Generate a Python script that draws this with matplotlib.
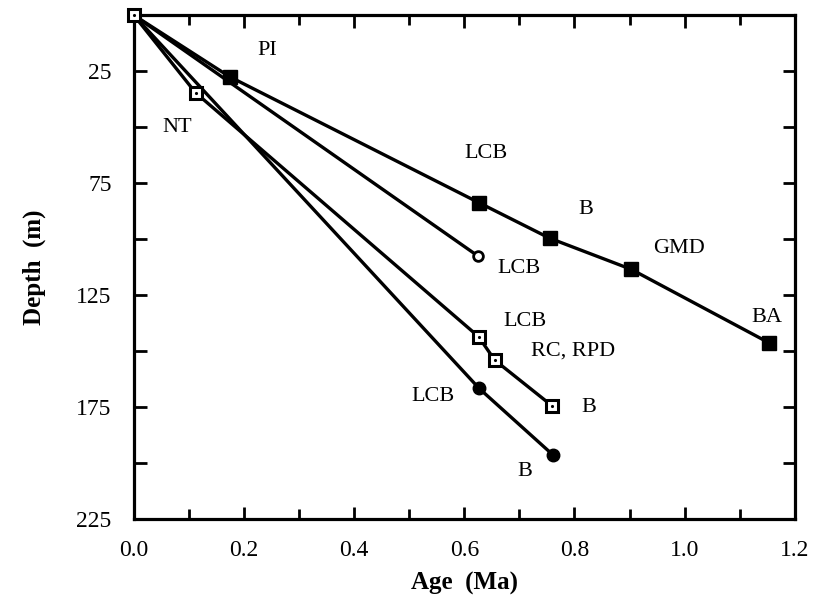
import numpy as np
import matplotlib.pyplot as plt
from matplotlib.ticker import MultipleLocator, FixedLocator

plt.rcParams['font.family'] = ['Liberation Serif', 'DejaVu Serif']

# filled squares
age_fs = [0.0, 0.174, 0.627, 0.755, 0.903, 1.153]
depth_fs = [0.0, 27.5, 83.8, 99.6, 113.5, 146.3]
# open circle
age_oc = [0.0, 0.625]
depth_oc = [0.0, 107.6]
# open squares with dot
age_os = [0.0, 0.112, 0.626, 0.655, 0.760]
depth_os = [0.0, 34.6, 143.6, 154.0, 174.6]
# filled circles
age_fc = [0.0, 0.627, 0.761]
depth_fc = [0.0, 166.7, 196.4]

labels = ["PI", "NT", "LCB", "B", "GMD", "BA", "LCB", "LCB", "RC, RPD", "B", "LCB", "B"]
label_x = [0.243, 0.078, 0.64, 0.82, 0.99, 1.15, 0.70, 0.71, 0.797, 0.826, 0.543, 0.71]
label_y = [15.6, 50.0, 61.6, 87.0, 104.0, 134.8, 113.0, 136.6, 150.0, 175.0, 170.5, 203.6]

fig = plt.figure(figsize=(8.16, 6.07), dpi=100)
ax = fig.add_axes([0.164, 0.145, 0.81, 0.830])

lw = 2.4
ax.plot(age_fs, depth_fs, color='black', lw=lw, zorder=2)
ax.plot(age_fs[1:], depth_fs[1:], 's', color='black', ms=9.5, zorder=3)
ax.plot(age_oc, depth_oc, color='black', lw=lw, zorder=2)
ax.plot(age_oc[1:], depth_oc[1:], 'o', mfc='white', mec='black', mew=2, ms=7, zorder=3)
ax.plot(age_os, depth_os, color='black', lw=lw, zorder=2)
ax.plot(age_os, depth_os, 's', mfc='white', mec='black', mew=2.2, ms=8.5, zorder=4, clip_on=False)
ax.plot(age_os, depth_os, '.', color='black', ms=2.5, zorder=5, clip_on=False)
ax.plot(age_fc, depth_fc, color='black', lw=lw, zorder=2)
ax.plot(age_fc[1:], depth_fc[1:], 'o', color='black', ms=9, zorder=3)

for t, x, y in zip(labels, label_x, label_y):
    ax.text(x, y, t, ha='center', va='center', fontsize=16)

ax.set_xlim(0, 1.2)
ax.set_ylim(225, 0)
ax.xaxis.set_major_locator(MultipleLocator(0.2))
ax.xaxis.set_minor_locator(MultipleLocator(0.1))
ax.set_xticklabels([f"{v:.1f}" for v in ax.get_xticks()])
ax.yaxis.set_major_locator(FixedLocator([25, 75, 125, 175, 225]))
ax.yaxis.set_minor_locator(FixedLocator([50, 100, 150, 200]))

ax.tick_params(which='both', direction='in', top=True, right=True, width=2, labelsize=17)
ax.tick_params(which='major', length=9)
ax.tick_params(which='minor', length=7)
ax.tick_params(axis='x', pad=15)
ax.tick_params(axis='y', pad=16)
ax.tick_params(axis='y', which='minor', length=9)
for s in ax.spines.values():
    s.set_linewidth(2.3)

ax.set_xlabel("Age  (Ma)", fontsize=18, fontweight='bold', labelpad=8)
ax.set_ylabel("Depth  (m)", fontsize=18, fontweight='bold', labelpad=22)

fig.savefig("out.png", dpi=100)
